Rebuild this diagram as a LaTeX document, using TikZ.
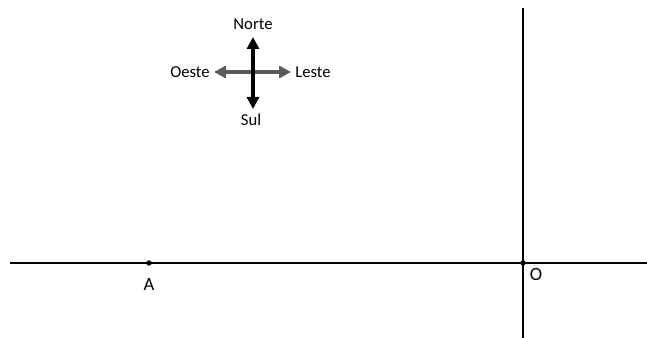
\documentclass[tikz,border=0pt]{standalone}
\usepackage{fontspec}
\setmainfont{Carlito}
\usepackage{tikz}
\usetikzlibrary{arrows.meta}

\tikzset{
	rotulo/.style={font=\fontsize{12.5}{14}\selectfont, inner sep=1pt},
	ponto/.style={circle, fill, inner sep=0pt, minimum size=4pt},
	seta/.style={line width=2.4pt, {Triangle[length=9pt,width=9pt]}-{Triangle[length=9pt,width=9pt]}}
}

\begin{document}
\begin{tikzpicture}[x=0.75pt, y=-0.75pt]
	\useasboundingbox (0,0) rectangle (647,338);

	% eixos
	\coordinate (esq) at (10,263);
	\coordinate (dir) at (647,263);
	\coordinate (topo) at (523,8);
	\coordinate (base) at (523,338);
	\draw[line width=1.6pt] (esq) -- (dir);
	\draw[line width=1.6pt] (topo) -- (base);

	\node[ponto] (A) at (149,263) {};
	\node[rotulo, font=\fontsize{14}{16}\selectfont] (rotA) at (149,285) {A};
	\node[ponto] (O) at (523,263) {};
	\node[rotulo, font=\fontsize{14}{16}\selectfont] (rotO) at (536,275) {O};

	% rosa dos ventos
	\coordinate (n) at (253,37);
	\coordinate (s) at (253,109);
	\coordinate (o) at (214,72);
	\coordinate (l) at (291,72);
	\draw[seta, color={rgb,255:red,90;green,90;blue,90}, line width=3pt] (o) -- (l);
	\draw[seta] (s) -- (n);

	\node[rotulo] (norte) at (253,24) {Norte};
	\node[rotulo] (sul) at (251,120) {Sul};
	\node[rotulo] (oeste) at (190,72) {Oeste};
	\node[rotulo] (leste) at (313,72) {Leste};
\end{tikzpicture}
\end{document}
